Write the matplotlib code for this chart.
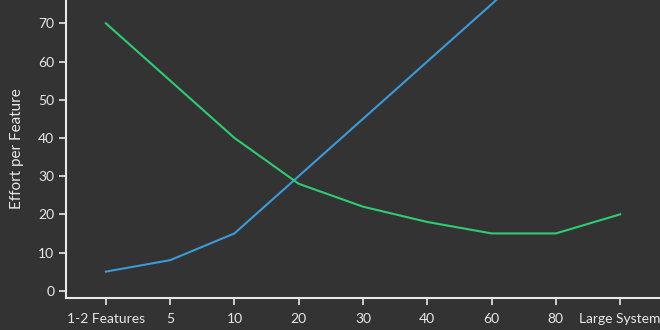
import matplotlib.pyplot as plt

plt.rcParams["font.family"] = ["Lato", "DejaVu Sans"]

# Categories along the x axis
stages = ["1-2 Features", "5", "10", "20", "30", "40", "60", "80", "Large System"]

# Effort per feature for the two approaches
rising_effort = [5, 8, 15, 30, 45, 60, 75, 90, 105]
falling_effort = [70, 55, 40, 28, 22, 18, 15, 15, 20]

bg = "#333333"
fg = "#e8e8e8"

fig = plt.figure(figsize=(6.6, 3.3), dpi=100, facecolor=bg)
ax = fig.add_axes([0.1, 0.097, 0.9, 0.903], facecolor=bg)

x = list(range(len(stages)))
ax.plot(x, rising_effort, color="#3d9ad8", linewidth=1.5)
ax.plot(x, falling_effort, color="#2fcc71", linewidth=1.5)

ax.set_xlim(-0.62, 8.62)
ax.set_ylim(-1.9, 76.1)
ax.set_xticks(x)
ax.set_xticklabels(stages)
ax.set_yticks(range(0, 71, 10))

ax.set_ylabel("Effort per Feature", color=fg, fontsize=11, labelpad=10)

for side in ["top", "right"]:
    ax.spines[side].set_visible(False)
for side in ["left", "bottom"]:
    ax.spines[side].set_color(fg)
    ax.spines[side].set_linewidth(1.5)

ax.tick_params(colors=fg, labelsize=10, length=5, width=1.2, direction="out")
ax.tick_params(axis="x", pad=6)

fig.savefig("out.png", facecolor=bg)
